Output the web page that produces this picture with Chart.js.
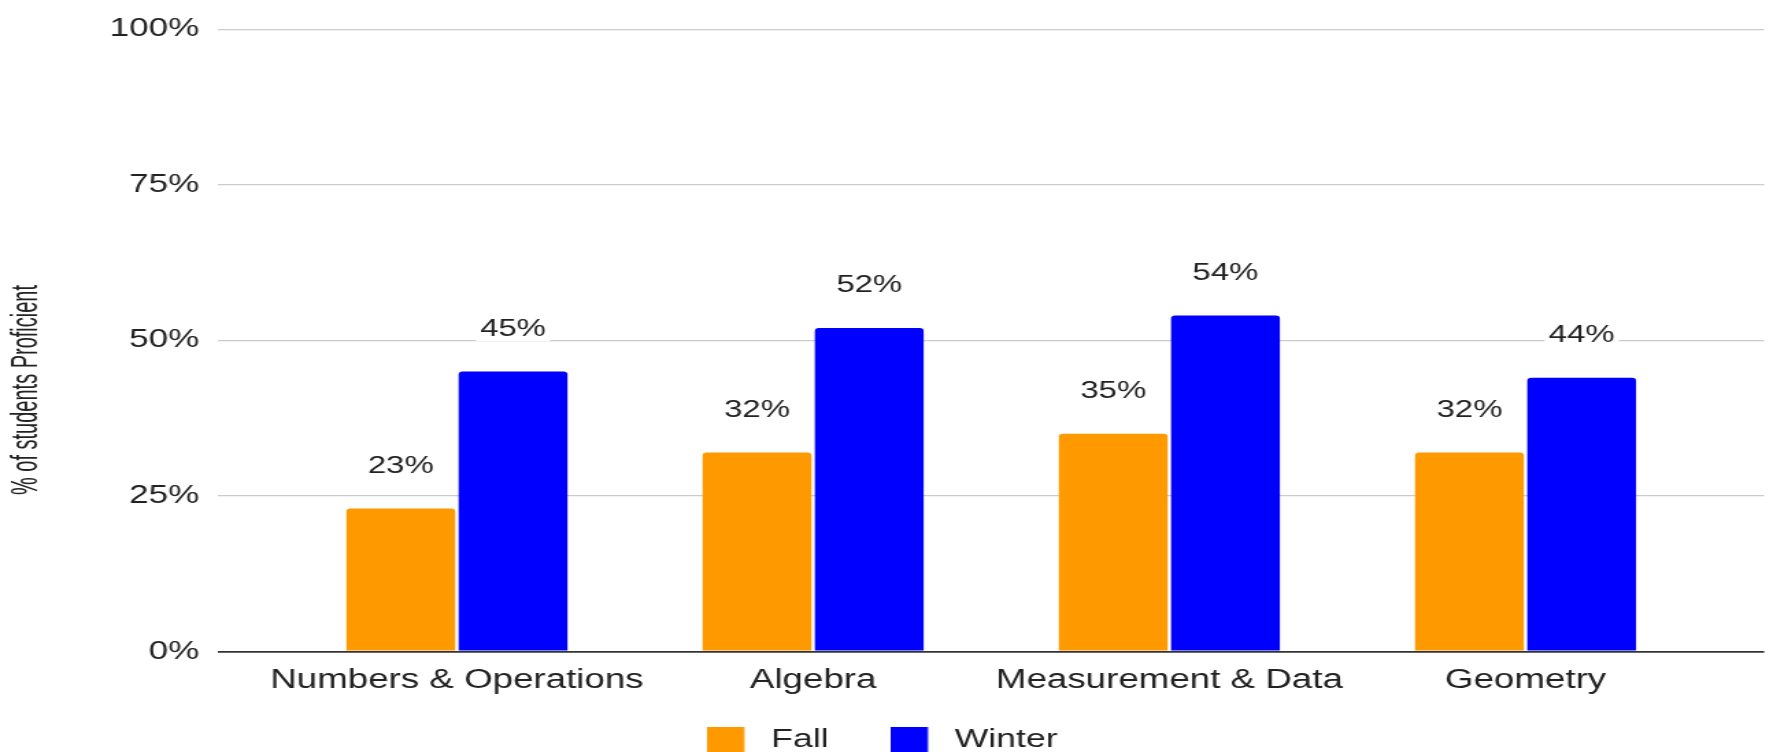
<!DOCTYPE html>
<html>
<head>
<meta charset="utf-8">
<script src="https://cdn.jsdelivr.net/npm/chart.js@4.4.1/dist/chart.umd.min.js"></script>
<style>
html, body { margin: 0; padding: 0; background: #ffffff; overflow: hidden; }
#wrap { width: 1773px; height: 752px; overflow: hidden; position: relative; background: #fff; }
</style>
</head>
<body>
<div id="wrap"><canvas id="c" width="1294" height="763" style="display:block;width:1773px;height:763px"></canvas></div>
<script>
// ---- data ----
const categories = ['Numbers & Operations', 'Algebra', 'Measurement & Data', 'Geometry'];
const seriesNames = ['Fall', 'Winter'];
const fallValues = [23, 32, 35, 32];
const winterValues = [45, 52, 54, 44];
const yTickValues = [0, 25, 50, 75, 100];
const yAxisTitle = '% of students Proficient';

const FONT = "'Liberation Sans', Arial, sans-serif";
const TEXT = '#222222';

const toPoints = arr => arr.map((v, i) => ({ x: i, y: v }));

// legend swatch: coloured square followed by a small transparent gap
function makeSwatch(color) {
  const cv = document.createElement('canvas');
  cv.width = 34;
  cv.height = 26;
  const g = cv.getContext('2d');
  g.fillStyle = color;
  g.fillRect(0, 0, 27.5, 26);
  return cv;
}

const valueLabels = {
  id: 'valueLabels',
  afterDatasetsDraw(chart) {
    const ctx = chart.ctx;
    ctx.save();
    ctx.font = '24px ' + FONT;
    ctx.textAlign = 'center';
    ctx.textBaseline = 'alphabetic';
    chart.data.datasets.forEach((ds, di) => {
      const meta = chart.getDatasetMeta(di);
      meta.data.forEach((bar, i) => {
        const text = ds.data[i].y + '%';
        const w = ctx.measureText(text).width;
        const base = bar.y - 35.5;
        ctx.fillStyle = '#ffffff';
        ctx.fillRect(bar.x - w / 2 - 3, base - 21, w + 6, 26);
        ctx.fillStyle = TEXT;
        ctx.fillText(text, bar.x, base);
      });
    });
    ctx.restore();
  }
};

Chart.defaults.font.family = FONT;
Chart.defaults.color = TEXT;

const chart = new Chart(document.getElementById('c'), {
  type: 'bar',
  data: {
    datasets: [
      {
        label: seriesNames[0],
        data: toPoints(fallValues),
        backgroundColor: '#ff9900',
        borderRadius: { topLeft: 3, topRight: 3 },
        borderSkipped: 'start'
      },
      {
        label: seriesNames[1],
        data: toPoints(winterValues),
        backgroundColor: '#0000ff',
        borderRadius: { topLeft: 3, topRight: 3 },
        borderSkipped: 'start'
      }
    ]
  },
  options: {
    responsive: false,
    devicePixelRatio: 1,
    animation: false,
    categoryPercentage: 0.63,
    barPercentage: 0.97,
    layout: { padding: { top: 17, right: 6.4, left: 0, bottom: 0 } },
    scales: {
      x: {
        type: 'linear',
        min: -0.67,
        max: 3.67,
        offset: false,
        grid: { display: false, drawTicks: false },
        border: { display: false },
        afterBuildTicks: s => { s.ticks = categories.map((c, i) => ({ value: i })); },
        afterFit: s => { s.height = 30.5; },
        ticks: {
          autoSkip: false,
          maxRotation: 0,
          minRotation: 0,
          includeBounds: false,
          mirror: true,
          padding: -45.2,
          color: TEXT,
          font: { size: 26.8 },
          callback: v => (categories[v] !== undefined ? categories[v] : '')
        }
      },
      y: {
        min: 0,
        max: 100,
        afterBuildTicks: s => { s.ticks = yTickValues.map(v => ({ value: v })); },
        afterFit: s => { s.width = 159.3 - 41.2; },
        border: { display: false },
        grid: {
          drawTicks: false,
          color: c => (c.tick && c.tick.value === 0 ? '#333333' : '#cccccc'),
          lineWidth: c => (c.tick && c.tick.value === 0 ? 1.8 : 1.3)
        },
        ticks: {
          padding: 14,
          color: TEXT,
          font: { size: 25.5 },
          callback: v => v + '%'
        }
      }
    },
    plugins: {
      tooltip: { enabled: false },
      title: {
        display: true,
        position: 'left',
        text: yAxisTitle,
        color: TEXT,
        font: { size: 27.5, weight: 'normal' },
        padding: { top: 3.2, bottom: 5 }
      },
      legend: {
        position: 'bottom',
        labels: {
          color: TEXT,
          font: { size: 26 },
          usePointStyle: true,
          pointStyleWidth: 34,
          boxHeight: 26,
          padding: 45,
          generateLabels: ch => {
            const items = Chart.defaults.plugins.legend.labels.generateLabels(ch);
            return items.map(it => {
              it.pointStyle = makeSwatch(it.fillStyle);
              return it;
            });
          }
        }
      }
    }
  },
  plugins: [valueLabels]
});

// The reference's axis title is drawn condensed along its (vertical) direction.
const titleBox = chart.titleBlock;
if (titleBox) {
  const origDraw = titleBox.draw;
  titleBox.draw = function () {
    const c = this.ctx;
    const cx = this.left + this.width / 2;
    const cy = this.top + this.height / 2;
    c.save();
    c.translate(cx, cy);
    c.scale(1, 0.727);
    c.translate(-cx, -cy);
    origDraw.apply(this, arguments);
    c.restore();
  };
  chart.draw();
}
</script>
</body>
</html>
